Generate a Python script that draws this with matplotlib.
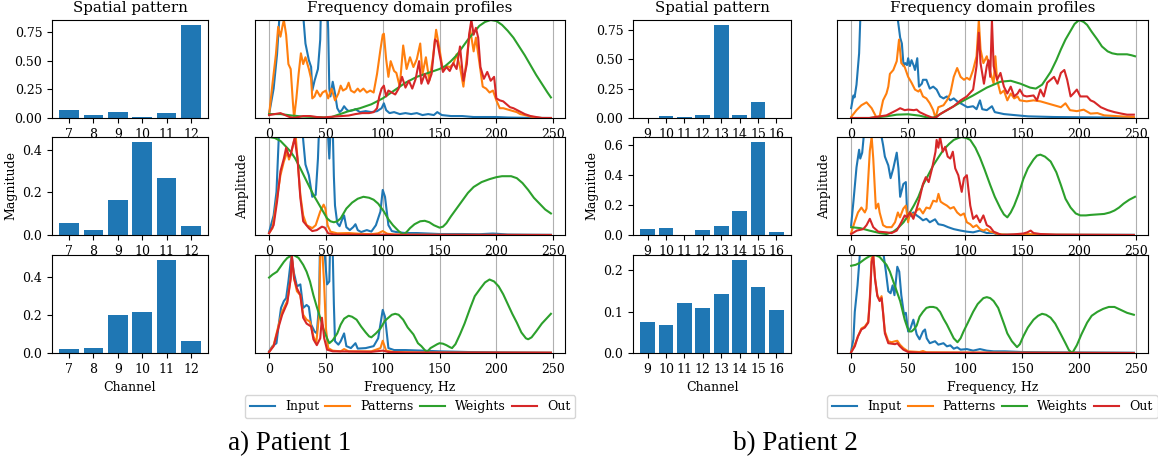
import matplotlib
matplotlib.use("Agg")
import matplotlib.pyplot as plt

plt.rcParams['font.family'] = 'DejaVu Serif'
plt.rcParams['font.size'] = 9

# ---------------- spatial patterns (bar charts) ----------------
p1_channels = ['7', '8', '9', '10', '11', '12']
p1_bar_r1 = [0.067, 0.023, 0.05, 0.006, 0.041, 0.815]
p1_bar_r2 = [0.058, 0.025, 0.166, 0.439, 0.27, 0.044]
p1_bar_r3 = [0.019, 0.024, 0.197, 0.217, 0.489, 0.061]

p2_channels = ['9', '10', '11', '12', '13', '14', '15', '16']
p2_bar_r1 = [0.002, 0.014, 0.006, 0.023, 0.793, 0.023, 0.134, 0.003]
p2_bar_r2 = [0.042, 0.049, 0.001, 0.036, 0.062, 0.163, 0.625, 0.022]
p2_bar_r3 = [0.074, 0.069, 0.12, 0.108, 0.144, 0.226, 0.161, 0.103]

p1_bar_yticks = [[0, 0.25, 0.5, 0.75], [0, 0.2, 0.4], [0, 0.2, 0.4]]
p2_bar_yticks = [[0, 0.25, 0.5, 0.75], [0, 0.2, 0.4, 0.6], [0, 0.1, 0.2]]

# ---------------- frequency profiles: (Hz, amplitude) ----------------
# Patient 1, row 1
p1r1_input = [(0,0.04),(4,0.3),(7,0.65),(10,1.2),(15,1.5),(20,1.5),(25,1.3),(30,1.05),(32,0.76),(35,0.59),
              (37,0.52),(38,0.28),(40,0.38),(43,0.5),(45,0.8),(46,1.3),(49,1.5),(51,1.2),(52,0.9),(53,0.3),
              (54,0.22),(56,0.37),(58,0.25),(60,0.1),(62,0.06),(64,0.08),(66,0.12),(68,0.09),(70,0.07),(74,0.08),
              (76,0.09),(80,0.06),(85,0.07),(90,0.06),(95,0.07),(99,0.1),(101,0.15),(103,0.08),(106,0.05),(110,0.06),
              (115,0.04),(120,0.05),(125,0.04),(130,0.05),(135,0.03),(140,0.04),(145,0.03),(148,0.06),(152,0.03),
              (160,0.02),(170,0.02),(180,0.01),(190,0.01),(200,0.01),(210,0.005),(220,0.003),(248,0.0)]
p1r1_patterns = [(0,0.03),(3,0.35),(6,0.65),(8,0.93),(10,0.83),(12,0.95),(13,1.0),(15,0.85),(17,0.55),(19,0.5),
                 (21,0.15),(22,0.0),(24,0.2),(26,0.45),(28,0.66),(30,0.55),(32,0.62),(35,0.5),(37,0.4),(38,0.2),
                 (40,0.22),(42,0.28),(45,0.22),(47,0.26),(50,0.28),(52,0.2),(55,0.3),(58,0.18),(61,0.25),(63,0.33),
                 (65,0.28),(68,0.3),(70,0.36),(72,0.28),(75,0.26),(78,0.3),(80,0.27),(83,0.3),(86,0.26),(89,0.28),
                 (92,0.26),(95,0.45),(98,0.7),(100,0.85),(101,0.86),(103,0.6),(105,0.42),(107,0.58),(110,0.48),(112,0.46),
                 (115,0.32),(118,0.74),(121,0.5),(124,0.62),(127,0.52),(130,0.6),(133,0.76),(135,0.45),(138,0.62),(141,0.38),
                 (144,0.6),(147,0.9),(150,0.7),(153,0.48),(156,0.53),(159,0.52),(162,0.55),(165,0.65),(168,0.52),(171,0.32),
                 (174,0.62),(177,0.9),(180,0.68),(182,0.82),(185,0.57),(188,0.32),(191,0.3),(194,0.26),(197,0.28),(200,0.18),
                 (203,0.1),(206,0.1),(209,0.09),(212,0.08),(215,0.07),(218,0.06),(221,0.04),(225,0.03),(230,0.015),(235,0.005),
                 (240,0.0),(248,0.0)]
p1r1_weights = [(0,0.04),(10,0.04),(20,0.025),(30,0.015),(40,0.01),(50,0.005),(55,0.01),(60,0.03),(65,0.05),(70,0.07),
                (80,0.1),(90,0.14),(100,0.2),(110,0.28),(120,0.36),(130,0.42),(140,0.46),(150,0.5),(155,0.53),(160,0.58),
                (165,0.64),(170,0.72),(175,0.8),(180,0.87),(185,0.94),(190,0.98),(195,1.0),(200,0.99),(205,0.95),(210,0.89),
                (215,0.82),(220,0.73),(225,0.64),(230,0.54),(235,0.44),(240,0.35),(245,0.26),(248,0.21)]
p1r1_out = [(0,0.03),(5,0.04),(10,0.05),(14,0.03),(18,0.01),(22,0.0),(26,0.01),(30,0.02),(36,0.02),(42,0.01),
            (48,0.005),(52,0.01),(58,0.015),(64,0.02),(70,0.025),(76,0.04),(82,0.05),(88,0.05),(92,0.06),(95,0.1),
            (97,0.22),(99,0.3),(101,0.33),(103,0.22),(105,0.28),(108,0.26),(111,0.24),(114,0.3),(117,0.42),(120,0.31),
            (123,0.38),(126,0.3),(129,0.4),(132,0.58),(134,0.35),(137,0.45),(140,0.35),(143,0.45),(146,0.8),(148,0.78),
            (150,0.65),(153,0.47),(156,0.52),(159,0.48),(162,0.56),(165,0.5),(168,0.73),(171,0.38),(174,0.55),(176,0.85),
            (178,1.0),(180,0.85),(182,0.92),(184,0.82),(186,0.52),(189,0.4),(192,0.47),(195,0.38),(198,0.42),(200,0.2),
            (203,0.18),(206,0.17),(209,0.14),(212,0.11),(215,0.1),(220,0.07),(225,0.04),(230,0.02),(235,0.01),(240,0.0),
            (248,0.0)]

# Patient 1, row 2
p1r2_input = [(0,0.03),(4,0.2),(6.5,0.44),(8.5,0.99),(10,1.3),(15,1.5),(20,1.5),(25,1.4),(29,1.1),(30.4,0.92),
              (32,0.72),(35,0.61),(38,0.39),(41,0.41),(43,0.78),(44,1.1),(45,1.3),(48,1.5),(51,1.2),(53,0.78),
              (54.5,1.2),(56,1.1),(57,0.6),(58,0.3),(60,0.12),(62,0.09),(64,0.15),(66,0.2),(68,0.08),(71,0.05),
              (74,0.08),(76,0.11),(78,0.05),(81,0.03),(86,0.05),(90,0.035),(94,0.1),(98,0.24),(100,0.46),(102,0.39),
              (105,0.1),(108,0.04),(112,0.03),(120,0.02),(130,0.02),(140,0.015),(150,0.01),(170,0.01),(185,0.008),
              (197,0.015),(210,0.005),(230,0.003),(248,0.002)]
p1r2_patterns = [(0,0.02),(3,0.07),(7,0.38),(10,0.61),(13,0.75),(16,0.85),(17.5,0.77),(19,0.82),(22,0.96),(23.5,1.0),
                 (25,0.78),(27.5,0.41),(30,0.2),(33,0.1),(38,0.07),(41,0.1),(45,0.24),(48,0.31),(49.5,0.27),(51.5,0.1),
                 (54,0.034),(60,0.017),(70,0.02),(80,0.012),(90,0.008),(96,0.017),(100,0.04),(104,0.013),(110,0.005),
                 (120,0.003),(150,0.002),(200,0.001),(248,0.0)]
p1r2_weights = [(0,1.0),(5,0.99),(10,0.96),(15,0.9),(19,0.85),(23,0.78),(27.5,0.68),(33,0.55),(39,0.41),(45,0.29),
                (51,0.17),(54,0.14),(57,0.13),(60,0.14),(63,0.17),(68,0.27),(73,0.33),(78,0.37),(83,0.39),(88,0.38),
                (92,0.36),(96,0.32),(101,0.24),(105,0.16),(109,0.1),(114,0.04),(118,0.005),(121,0.03),(124,0.07),(128,0.11),
                (133,0.14),(137,0.145),(141,0.13),(145,0.1),(150,0.075),(153,0.085),(156,0.12),(160,0.19),(165,0.27),
                (170,0.35),(175,0.43),(180,0.49),(187,0.54),(194,0.57),(200,0.59),(205,0.6),(209,0.6),(213,0.6),
                (218,0.58),(223,0.53),(228,0.46),(233,0.38),(238,0.32),(243,0.26),(248,0.22)]
p1r2_out = [(0,0.017),(4,0.1),(7,0.34),(10,0.65),(13,0.78),(15,0.89),(17.5,0.8),(19,0.82),(21,0.92),(22.5,0.99),
            (25,0.78),(27.5,0.38),(30,0.14),(35,0.07),(38,0.04),(42,0.05),(46.5,0.085),(49,0.075),(52,0.017),
            (57,0.007),(60,0.004),(80,0.003),(100,0.004),(120,0.002),(248,0.0)]

# Patient 1, row 3
p1r3_input = [(0,0.017),(3,0.07),(6.5,0.1),(8.5,0.29),(10.5,0.46),(13,0.53),(15,0.56),(17,0.73),(19,0.93),(20,0.98),
              (21.6,0.83),(23,0.76),(24.5,0.68),(27.5,0.7),(30,0.46),(33,0.49),(35,0.47),(37,0.29),(40,0.22),(42,0.2),
              (44,0.5),(45,1.3),(47,1.5),(49,1.0),(51,0.7),(53,0.73),(54,1.3),(55.5,1.3),(57,0.5),(58,0.12),
              (61,0.085),(63,0.12),(66,0.2),(68,0.07),(72,0.05),(76,0.1),(78,0.045),(85,0.05),(92,0.07),(96,0.15),
              (100,0.44),(102,0.37),(105,0.05),(110,0.03),(120,0.03),(135,0.024),(150,0.017),(175,0.01),(200,0.007),
              (248,0.003)]
p1r3_patterns = [(0,0.01),(4,0.08),(8.5,0.29),(11.5,0.42),(16,0.53),(19,0.76),(20,0.98),(22,0.76),(24.5,0.63),
                 (27.5,0.59),(30,0.39),(33,0.34),(36,0.32),(39,0.17),(41.5,0.1),(44,0.39),(45,1.0),(47,1.0),(48.5,0.69),
                 (50,0.25),(52,0.05),(56,0.024),(63,0.017),(66,0.04),(70,0.017),(90,0.017),(98,0.05),(100,0.125),
                 (103,0.024),(110,0.01),(130,0.005),(170,0.003),(248,0.002)]
p1r3_weights = [(0,0.77),(3,0.8),(7,0.83),(10,0.88),(13,0.93),(16,0.97),(19,0.99),(21.7,1.0),(26,0.97),(30,0.9),
                (33,0.83),(36,0.73),(39,0.59),(42,0.47),(45,0.36),(48,0.24),(51,0.15),(53,0.1),(56,0.13),(60,0.2),
                (63,0.29),(66,0.35),(70,0.38),(73,0.37),(77,0.34),(81,0.27),(85,0.21),(88,0.17),(90,0.16),(94,0.2),
                (98,0.25),(102,0.33),(105,0.36),(108,0.39),(111,0.4),(114,0.39),(118,0.34),(122,0.26),(127,0.19),
                (131,0.1),(134,0.07),(137,0.03),(139,0.01),(142,0.05),(145,0.07),(148,0.09),(150,0.1),(153,0.095),
                (156,0.08),(159,0.06),(161,0.05),(164,0.09),(168,0.19),(172,0.3),(177,0.46),(181,0.58),(186,0.66),
                (190,0.72),(194,0.75),(198,0.73),(202,0.68),(206,0.6),(210,0.5),(214,0.4),(218,0.31),(222,0.21),
                (226,0.15),(228,0.14),(231,0.16),(235,0.22),(240,0.3),(244,0.35),(248,0.4)]
p1r3_out = [(0,0.01),(4,0.07),(8.5,0.27),(11.5,0.39),(16,0.51),(19,0.76),(20,1.0),(22,0.76),(24.5,0.66),(27.5,0.59),
            (30,0.36),(33,0.3),(37,0.27),(39,0.14),(42,0.08),(45,0.15),(46.5,0.36),(48.5,0.15),(51,0.034),(56,0.017),
            (70,0.015),(90,0.012),(100,0.024),(105,0.01),(120,0.005),(248,0.003)]

# Patient 2, row 1
p2r1_input = [(0,0.1),(2,0.23),(3,0.21),(4.7,0.34),(7,0.66),(8,1.0),(10,1.4),(20,1.6),(30,1.5),(38,1.3),
              (41,1.0),(43,0.82),(44.5,0.76),(46,0.53),(47.5,0.56),(49,0.54),(50,0.61),(51.5,0.53),(53,0.59),(55,0.53),
              (56,0.49),(58,0.61),(59.5,0.32),(62,0.35),(63,0.39),(66,0.39),(69,0.3),(72,0.32),(75,0.29),(78,0.22),
              (81,0.2),(84,0.22),(87,0.18),(90,0.2),(93,0.17),(96,0.15),(99,0.13),(102,0.11),(107,0.12),(110,0.09),
              (113,0.18),(115,0.09),(119,0.08),(123.5,0.12),(126,0.06),(134,0.04),(143,0.03),(155,0.017),(178,0.01),
              (207,0.007),(248,0.003)]
p2r1_patterns = [(0,0.01),(4.7,0.08),(9,0.13),(13.5,0.16),(18,0.1),(22,0.01),(25,0.017),(28,0.18),(31,0.25),(32.6,0.32),
                 (34,0.45),(37,0.49),(40,0.58),(42,0.8),(44,0.56),(47,0.52),(50,0.42),(53,0.36),(56,0.29),(59,0.27),
                 (60.5,0.29),(63,0.22),(66,0.2),(69,0.15),(72,0.08),(74,0.0),(76.5,0.11),(81,0.13),(84,0.18),(87,0.25),
                 (90,0.42),(93,0.51),(96,0.42),(99,0.39),(101.5,0.41),(104,0.39),(107,0.49),(110,0.63),(112,1.0),
                 (113.5,0.7),(116,0.56),(119,0.63),(122,0.47),(125,0.35),(126.5,0.63),(128,0.39),(131,0.25),(134,0.28),
                 (137,0.18),(140,0.25),(143,0.2),(146,0.22),(148,0.18),(154,0.17),(160,0.18),(166,0.17),(172,0.15),
                 (178,0.13),(184,0.11),(188,0.15),(192,0.08),(198,0.07),(204,0.085),(210,0.045),(216,0.05),(222,0.027),
                 (236,0.017),(248,0.01)]
p2r1_weights = [(0,0.0),(16,0.0),(31,0.017),(40,0.034),(50,0.038),(60,0.024),(69,0.0),(74,0.01),(81,0.06),(90,0.12),
                (99,0.18),(107,0.23),(119,0.31),(131,0.37),(140,0.38),(148.5,0.35),(157,0.31),(162,0.3),(167.5,0.34),
                (171,0.4),(175,0.47),(180,0.59),(184,0.7),(188,0.8),(192.5,0.89),(196,0.96),(200,1.0),(204,0.98),
                (207,0.95),(211,0.88),(216,0.8),(220,0.73),(225,0.68),(229,0.66),(233.5,0.65),(238,0.65),(242,0.65),
                (246,0.64),(249,0.63)]
p2r1_out = [(0,0.0),(16,0.0),(31,0.027),(40,0.08),(43,0.1),(47,0.08),(50,0.086),(55,0.08),(57.5,0.086),(60,0.06),
            (66,0.027),(72,0.0),(75,0.01),(78,0.04),(84,0.08),(90,0.12),(96,0.18),(101.5,0.22),(107,0.29),(110,0.53),
            (112,0.87),(113.5,0.56),(116.5,0.35),(119,0.53),(120.5,0.59),(122,0.42),(123.5,1.0),(125,0.53),(128,0.39),
            (131,0.46),(134,0.32),(137,0.25),(140,0.32),(143,0.22),(146,0.25),(148,0.29),(151,0.23),(154,0.22),
            (160,0.23),(163,0.18),(166,0.29),(169,0.22),(172,0.36),(175,0.39),(178,0.42),(181,0.35),(184,0.46),
            (187,0.49),(189.5,0.39),(192.5,0.22),(195,0.25),(198,0.29),(201,0.22),(207,0.22),(210,0.18),(213,0.165),
            (219,0.11),(225,0.08),(231,0.06),(237,0.045),(242,0.034),(248,0.034)]

# Patient 2, row 2
p2r2_input = [(0,0.1),(2,0.34),(4.7,0.69),(7,0.87),(8,0.78),(9.7,0.84),(11,1.0),(12,1.3),(20,1.5),(25,1.2),
              (26.7,1.0),(28,0.92),(29.6,0.8),(32.6,0.71),(34.6,0.58),(37,0.68),(40,0.84),(41.5,0.68),(43,0.39),
              (45.8,0.52),(48,0.54),(49.3,0.16),(52,0.2),(54.6,0.23),(57.5,0.2),(60,0.18),(63,0.15),(66,0.165),
              (69,0.13),(73.6,0.16),(76.5,0.11),(81,0.1),(85,0.08),(90,0.06),(96,0.045),(101.5,0.034),(107,0.027),
              (113,0.045),(119,0.02),(125,0.02),(128,0.007),(137,0.003),(248,0.002)]
p2r2_patterns = [(0,0.02),(3,0.13),(6,0.23),(9,0.28),(12,0.23),(13.5,0.27),(16.4,0.86),(18,1.0),(19.4,0.78),(21.7,0.27),
                 (23.8,0.32),(25,0.23),(28,0.1),(31,0.08),(35.5,0.08),(38.5,0.13),(41,0.23),(42.8,0.18),(45.8,0.27),
                 (48,0.3),(50,0.13),(51.5,0.23),(54.6,0.2),(57.5,0.25),(60,0.27),(63,0.22),(66,0.28),(69,0.27),(72,0.35),
                 (75,0.34),(76.6,0.42),(78.5,0.34),(81,0.32),(84,0.3),(87,0.27),(90,0.285),(93,0.23),(96,0.2),(99,0.22),
                 (101.5,0.13),(104.5,0.11),(107,0.08),(110,0.1),(113,0.06),(116,0.045),(119,0.06),(122,0.034),
                 (125,0.027),(128,0.01),(137,0.003),(150,0.003),(154,0.01),(160,0.007),(175,0.003),(248,0.0)]
p2r2_weights = [(0,0.08),(8,0.07),(16,0.045),(25,0.02),(31,0.01),(37,0.034),(41,0.07),(46,0.13),(50,0.2),(55,0.3),
                (59,0.39),(63,0.51),(68,0.62),(72,0.71),(77,0.8),(81,0.87),(86,0.93),(90,0.97),(94,0.99),(97,1.0),
                (101,0.99),(104.5,0.97),(109,0.89),(113,0.79),(117,0.67),(122,0.51),(126,0.39),(131,0.27),(134,0.21),
                (137,0.18),(140,0.23),(143,0.3),(147,0.42),(151,0.57),(155,0.68),(160,0.77),(163,0.81),(166,0.82),
                (170,0.8),(175,0.75),(180,0.64),(184,0.51),(188,0.37),(192.5,0.28),(197,0.22),(201,0.2),(206,0.2),
                (210,0.205),(216,0.21),(222,0.215),(227,0.23),(231,0.25),(235,0.28),(239,0.32),(244,0.36),(249,0.39)]
p2r2_out = [(0,0.01),(5,0.045),(10.6,0.06),(13.5,0.1),(16.4,0.165),(19.4,0.08),(23.8,0.034),(31,0.027),(35.5,0.02),
            (40,0.045),(44,0.13),(47,0.2),(49,0.18),(51.5,0.23),(54.6,0.165),(57.5,0.27),(60,0.37),(63,0.52),
            (65.5,0.59),(68,0.54),(71,0.68),(74,0.85),(75,0.97),(76.5,0.89),(78,1.0),(80.4,0.85),(82.5,0.9),
            (84.7,0.8),(87,0.78),(89.2,0.85),(91.3,0.68),(94,0.61),(97,0.44),(99,0.58),(101.5,0.61),(104.5,0.3),
            (107,0.165),(110,0.2),(113,0.13),(116,0.2),(119,0.1),(122,0.08),(125,0.034),(128,0.02),(132,0.0),
            (143,0.007),(151,0.015),(154.5,0.027),(157.5,0.045),(160,0.02),(166,0.01),(180,0.003),(248,0.0)]

# Patient 2, row 3
p2r3_input = [(0,0.017),(2,0.14),(3.2,0.42),(5.6,0.69),(7.6,1.0),(10,1.3),(20,1.5),(27,1.2),(28.5,1.0),(30.5,0.83),
              (32.6,0.63),(34.6,0.61),(36.4,0.69),(38,0.59),(40.5,0.88),(42.2,0.83),(44,0.59),(46.4,0.39),(48,0.41),
              (50,0.22),(52,0.25),(54.6,0.34),(57.5,0.19),(60,0.14),(63,0.22),(64.8,0.24),(66.3,0.15),(69,0.1),
              (73.6,0.12),(76.5,0.085),(81,0.1),(84,0.068),(87,0.078),(90,0.044),(93,0.058),(96,0.034),(101.5,0.04),
              (107,0.024),(113,0.04),(119,0.024),(125,0.017),(135,0.017),(150,0.01),(178,0.007),(248,0.003)]
p2r3_patterns = [(0,0.007),(3.2,0.085),(6,0.17),(9,0.25),(12,0.27),(15,0.32),(16.4,0.56),(18,0.97),(19.4,1.0),(21,0.76),
                 (23,0.59),(25,0.54),(26.7,0.58),(28,0.42),(29.6,0.22),(32.6,0.12),(35.5,0.11),(38.5,0.12),(40.5,0.125),
                 (42.8,0.085),(45.8,0.05),(50,0.017),(60,0.01),(63,0.02),(66,0.007),(100,0.005),(150,0.003),(248,0.0)]
p2r3_weights = [(0,0.89),(4,0.9),(7.6,0.92),(11,0.95),(13.5,0.97),(16.5,0.99),(19.4,1.0),(22,0.995),(25,0.98),(28,0.94),
                (31,0.9),(34,0.83),(37,0.73),(40,0.63),(43,0.53),(47,0.34),(49,0.27),(51,0.22),(53,0.22),(55,0.24),
                (57.5,0.28),(60,0.37),(63,0.42),(66,0.46),(69,0.47),(72,0.47),(75,0.46),(78,0.42),(81,0.35),(84,0.29),
                (87,0.22),(90,0.15),(93.3,0.11),(96,0.15),(98.6,0.22),(102,0.3),(107,0.42),(111,0.5),(116,0.56),
                (119,0.57),(122,0.56),(125,0.53),(129,0.46),(134,0.3),(137,0.2),(141,0.12),(145.5,0.06),(148,0.09),
                (151,0.17),(155,0.26),(160,0.34),(164,0.38),(167.5,0.4),(171,0.39),(175,0.36),(179,0.3),(184,0.19),
                (188,0.1),(191,0.03),(194,0.0),(198,0.08),(202,0.19),(207,0.31),(211,0.38),(216,0.42),(221,0.45),
                (226,0.47),(231,0.47),(236.5,0.44),(242,0.41),(248,0.39)]
p2r3_out = [(0,0.007),(3.2,0.068),(6,0.17),(9,0.24),(12,0.26),(15,0.31),(16.4,0.53),(18,0.93),(19.4,0.99),(21,0.75),
            (23,0.58),(25,0.53),(26.7,0.56),(28,0.41),(29.6,0.2),(32.6,0.1),(35.5,0.095),(38.5,0.09),(40.5,0.1),
            (42.8,0.068),(45.8,0.034),(50,0.01),(60,0.003),(248,0.0)]

series_labels = ['Input', 'Patterns', 'Weights', 'Out']
series_colors = ['#1f77b4', '#ff7f0e', '#2ca02c', '#d62728']
freq_ticks = [0, 50, 100, 150, 200, 250]
caption_1 = 'a) Patient 1'
caption_2 = 'b) Patient 2'

# ---------------- figure ----------------
W, H = 1158, 463
fig = plt.figure(figsize=(W / 100, H / 100), dpi=100)

def box(x0, y0, x1, y1):
    return [x0 / W, 1 - y1 / H, (x1 - x0) / W, (y1 - y0) / H]

rows_px = [(20, 118), (137, 235), (255, 353)]

def draw_bars(ax, channels, values, yticks, row):
    pos = list(range(len(channels)))
    ax.bar(pos, values, width=0.8, color='#1f77b4')
    ax.set_xticks(pos)
    ax.set_xticklabels(channels)
    ax.set_yticks(yticks)
    if row == 0:
        ax.set_title('Spatial pattern')
    if row == 1:
        ax.set_ylabel('Magnitude')
    if row == 2:
        ax.set_xlabel('Channel')

def draw_profile(ax, series, row):
    for pts, col, lab in zip(series, series_colors, series_labels):
        f = [p[0] for p in pts]
        v = [p[1] for p in pts]
        ax.plot(f, v, color=col, lw=1.5, label=lab)
    ax.set_xlim(-12.4, 260.4)
    ax.set_ylim(0, 1.0)
    ax.set_yticks([])
    ax.set_xticks(freq_ticks)
    ax.grid(axis='x', color='#b0b0b0', lw=0.8)
    if row == 0:
        ax.set_title('Frequency domain profiles')
    if row == 1:
        ax.set_ylabel('Amplitude')
    if row == 2:
        ax.set_xlabel('Frequency, Hz')
        ax.legend(loc='upper center', bbox_to_anchor=(0.5, -0.43), ncol=4,
                  columnspacing=0.5, handletextpad=0.8, borderaxespad=0)

p1_bars = [p1_bar_r1, p1_bar_r2, p1_bar_r3]
p2_bars = [p2_bar_r1, p2_bar_r2, p2_bar_r3]
p1_profiles = [[p1r1_input, p1r1_patterns, p1r1_weights, p1r1_out],
               [p1r2_input, p1r2_patterns, p1r2_weights, p1r2_out],
               [p1r3_input, p1r3_patterns, p1r3_weights, p1r3_out]]
p2_profiles = [[p2r1_input, p2r1_patterns, p2r1_weights, p2r1_out],
               [p2r2_input, p2r2_patterns, p2r2_weights, p2r2_out],
               [p2r3_input, p2r3_patterns, p2r3_weights, p2r3_out]]

for r, (y0, y1) in enumerate(rows_px):
    ax = fig.add_axes(box(52, y0, 208, y1))
    draw_bars(ax, p1_channels, p1_bars[r], p1_bar_yticks[r], r)
    ax = fig.add_axes(box(255, y0, 565, y1))
    draw_profile(ax, p1_profiles[r], r)
    ax = fig.add_axes(box(633, y0, 791, y1))
    draw_bars(ax, p2_channels, p2_bars[r], p2_bar_yticks[r], r)
    ax = fig.add_axes(box(837, y0, 1148, y1))
    draw_profile(ax, p2_profiles[r], r)

fig.text(290 / W, 1 - 444 / H, caption_1, ha='center', va='center',
         family='Liberation Serif', fontsize=19.5)
fig.text(795 / W, 1 - 444 / H, caption_2, ha='center', va='center',
         family='Liberation Serif', fontsize=19.5)

fig.savefig('out.png', dpi=100)
